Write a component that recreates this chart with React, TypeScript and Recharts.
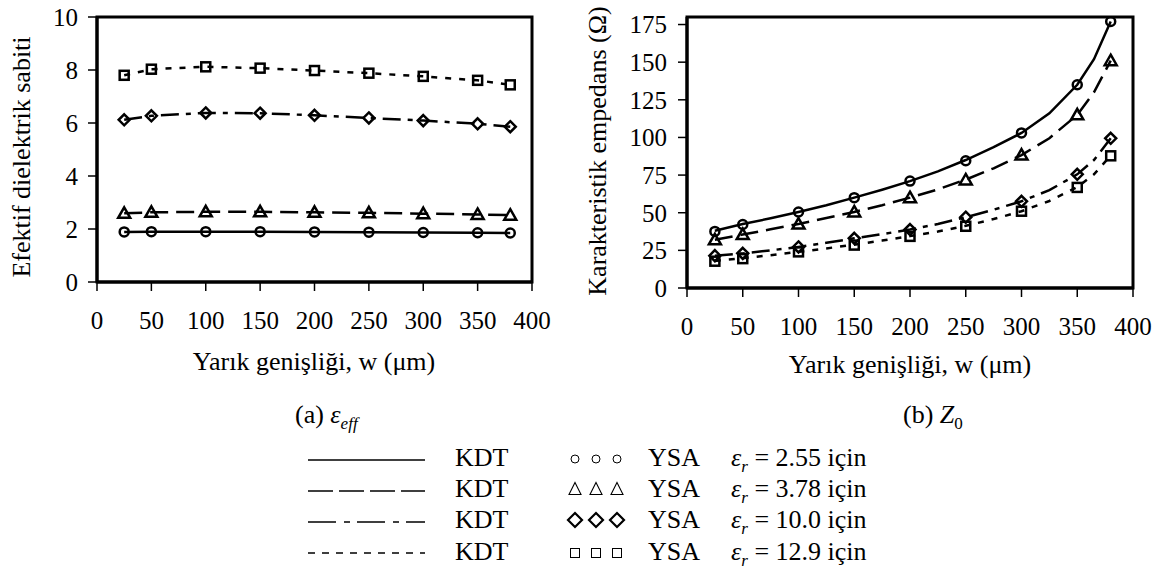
import React from 'react';
import {
  ComposedChart,
  Line,
  Scatter,
  XAxis,
  YAxis,
  ReferenceArea,
} from 'recharts';

// slot width w (µm)
const ysaWidths = [25, 50, 100, 150, 200, 250, 300, 350, 380];
const kdtWidthsZ0 = [25, 50, 75, 100, 125, 150, 175, 200, 225, 250, 275, 300, 325, 350, 365, 380];

// (a) effective dielectric constant
const effKdt255 = [1.89, 1.9, 1.9, 1.9, 1.89, 1.88, 1.87, 1.86, 1.85];
const effKdt378 = [2.59, 2.63, 2.65, 2.65, 2.63, 2.61, 2.58, 2.55, 2.52];
const effKdt100 = [6.12, 6.27, 6.38, 6.37, 6.29, 6.19, 6.09, 5.97, 5.86];
const effKdt129 = [7.8, 8.03, 8.12, 8.07, 7.98, 7.88, 7.76, 7.61, 7.44];

const effYsa255 = [1.89, 1.9, 1.9, 1.9, 1.89, 1.88, 1.87, 1.86, 1.85];
const effYsa378 = [2.59, 2.63, 2.65, 2.65, 2.63, 2.61, 2.58, 2.55, 2.52];
const effYsa100 = [6.12, 6.27, 6.38, 6.37, 6.29, 6.19, 6.09, 5.97, 5.86];
const effYsa129 = [7.8, 8.03, 8.12, 8.07, 7.98, 7.88, 7.76, 7.61, 7.44];

// (b) characteristic impedance
const z0Kdt255 = [38, 42.5, 46.3, 50.5, 55, 60, 65.3, 71, 77.5, 85, 93.5, 103, 116, 135, 152, 177];
const z0Kdt378 = [32, 35.5, 39, 42.5, 46.5, 50.5, 55, 60, 65.5, 72, 79.5, 88.3, 99.5, 115, 130, 151];
const z0Kdt100 = [21.5, 23, 25, 27.3, 30, 33, 35.8, 38.8, 42.5, 47, 52, 57.6, 65, 75.5, 85, 99.4];
const z0Kdt129 = [18, 19.8, 21.8, 24, 26.3, 28.8, 31.5, 34.5, 37.5, 41.3, 45.8, 51, 57.8, 67, 75.5, 88];

const z0Ysa255 = [37.6, 42.2, 50.5, 60, 71, 84.5, 103, 135, 177];
const z0Ysa378 = [32, 35.5, 42.5, 50.5, 60, 71.8, 88.3, 115, 151];
const z0Ysa100 = [21.5, 23, 27.3, 33, 38.8, 47, 57.6, 75.5, 99.4];
const z0Ysa129 = [17.8, 19.5, 24, 28.5, 34.3, 41, 51, 66.8, 87.8];

const xTicks = [0, 50, 100, 150, 200, 250, 300, 350, 400];
const effTicks = [0, 2, 4, 6, 8, 10];
const z0Ticks = [0, 25, 50, 75, 100, 125, 150, 175];

const FONT = 'Liberation Serif, DejaVu Serif, serif';

const pts = (xs: number[], ys: number[]) => xs.map((x, i) => ({ x, y: ys[i] }));

const circleShape = (p: any) => (
  <circle cx={p.cx} cy={p.cy} r={4.5} fill="none" stroke="#000" strokeWidth={2.5} />
);
const triangleShape = (p: any) => (
  <polygon
    points={`${p.cx},${p.cy - 6} ${p.cx + 6},${p.cy + 4.5} ${p.cx - 6},${p.cy + 4.5}`}
    fill="none"
    stroke="#000"
    strokeWidth={2.5}
    strokeLinejoin="miter"
  />
);
const diamondShape = (p: any) => (
  <polygon
    points={`${p.cx},${p.cy - 5.5} ${p.cx + 5.5},${p.cy} ${p.cx},${p.cy + 5.5} ${p.cx - 5.5},${p.cy}`}
    fill="none"
    stroke="#000"
    strokeWidth={2.5}
  />
);
const squareShape = (p: any) => (
  <rect x={p.cx - 4.5} y={p.cy - 4.5} width={9} height={9} fill="none" stroke="#000" strokeWidth={2.5} />
);

const DASHES = ['0', '18 8', '18 7 5 7', '6 8'];

const tickStyle = { fill: '#000', fontSize: 25, fontFamily: FONT };

interface PanelProps {
  kdt: { x: number; y: number }[][];
  ysa: { x: number; y: number }[][];
  yDomain: [number, number];
  yTicks: number[];
  width: number;
  height: number;
  margin: { top: number; right: number; left: number; bottom: number };
  yAxisWidth: number;
  xAxisHeight: number;
  yTickMargin: number;
}

function Panel({ kdt, ysa, yDomain, yTicks, width, height, margin, yAxisWidth, xAxisHeight, yTickMargin }: PanelProps) {
  const shapes = [circleShape, triangleShape, diamondShape, squareShape];
  return (
    <ComposedChart width={width} height={height} margin={margin} style={{ fontFamily: FONT }}>
      <XAxis
        type="number"
        dataKey="x"
        domain={[0, 400]}
        ticks={xTicks}
        interval={0}
        height={xAxisHeight}
        tickSize={9}
        tickMargin={20}
        axisLine={{ stroke: '#000', strokeWidth: 3 }}
        tickLine={{ stroke: '#000', strokeWidth: 1.5 }}
        tick={tickStyle}
        allowDataOverflow
      />
      <YAxis
        type="number"
        dataKey="y"
        domain={yDomain}
        ticks={yTicks}
        interval={0}
        width={yAxisWidth}
        tickSize={9}
        tickMargin={yTickMargin}
        axisLine={{ stroke: '#000', strokeWidth: 3 }}
        tickLine={{ stroke: '#000', strokeWidth: 1.5 }}
        tick={tickStyle}
        allowDataOverflow
      />
      <ReferenceArea
        x1={0}
        x2={400}
        y1={yDomain[0]}
        y2={yDomain[1]}
        fill="none"
        fillOpacity={0}
        stroke="#000"
        strokeWidth={3}
        ifOverflow="visible"
      />
      {kdt.map((d, i) => (
        <Line
          key={`kdt${i}`}
          data={d}
          dataKey="y"
          type="linear"
          stroke="#000"
          strokeWidth={2.5}
          strokeDasharray={DASHES[i]}
          dot={false}
          activeDot={false}
          isAnimationActive={false}
        />
      ))}
      {ysa.map((d, i) => (
        <Scatter key={`ysa${i}`} data={d} dataKey="y" shape={shapes[i]} isAnimationActive={false} />
      ))}
    </ComposedChart>
  );
}

const abs = (left: number, top: number, extra: React.CSSProperties = {}): React.CSSProperties => ({
  position: 'absolute',
  left,
  top,
  fontSize: 26,
  lineHeight: '26px',
  whiteSpace: 'nowrap',
  ...extra,
});

const legendRows = [
  { lineY: 460, textTop: 445, marker: 'circle', my: 459, er: '2.55' },
  { lineY: 491, textTop: 476, marker: 'triangle', my: 489, er: '3.78' },
  { lineY: 522, textTop: 507, marker: 'diamond', my: 520, er: '10.0' },
  { lineY: 553, textTop: 539, marker: 'square', my: 553, er: '12.9' },
];
const legendDashes = ['0', '25 6', '28 8 6 7', '7 7'];
const legendMarkerXs = [575, 596, 617];

function LegendMarker({ kind, cx, cy }: { kind: string; cx: number; cy: number }) {
  if (kind === 'circle') return <circle cx={cx} cy={cy} r={4} fill="none" stroke="#000" strokeWidth={1} />;
  if (kind === 'triangle')
    return (
      <polygon
        points={`${cx},${cy - 6.5} ${cx + 6},${cy + 5.5} ${cx - 6},${cy + 5.5}`}
        fill="none"
        stroke="#000"
        strokeWidth={1.1}
      />
    );
  if (kind === 'diamond')
    return (
      <polygon
        points={`${cx},${cy - 7} ${cx + 7},${cy} ${cx},${cy + 7} ${cx - 7},${cy}`}
        fill="none"
        stroke="#000"
        strokeWidth={2.2}
      />
    );
  return <rect x={cx - 4.5} y={cy - 4.5} width={9} height={9} fill="none" stroke="#000" strokeWidth={1} />;
}

export default function App() {
  const effKdt = [effKdt255, effKdt378, effKdt100, effKdt129].map((ys) => pts(ysaWidths, ys));
  const effYsa = [effYsa255, effYsa378, effYsa100, effYsa129].map((ys) => pts(ysaWidths, ys));
  const z0Kdt = [z0Kdt255, z0Kdt378, z0Kdt100, z0Kdt129].map((ys) => pts(kdtWidthsZ0, ys));
  const z0Ysa = [z0Ysa255, z0Ysa378, z0Ysa100, z0Ysa129].map((ys) => pts(ysaWidths, ys));

  return (
    <div
      style={{
        position: 'absolute',
        left: 0,
        top: 0,
        width: 1163,
        height: 576,
        background: '#fff',
        color: '#000',
        fontFamily: FONT,
        overflow: 'hidden',
      }}
    >
      <div style={{ position: 'absolute', left: 0, top: 0 }}>
        <Panel
          kdt={effKdt}
          ysa={effYsa}
          yDomain={[0, 10]}
          yTicks={effTicks}
          width={560}
          height={345}
          margin={{ top: 17, right: 28, left: 0, bottom: 0 }}
          yAxisWidth={97}
          xAxisHeight={63}
          yTickMargin={10}
        />
      </div>
      <div style={{ position: 'absolute', left: 560, top: 0 }}>
        <Panel
          kdt={z0Kdt}
          ysa={z0Ysa}
          yDomain={[0, 180]}
          yTicks={z0Ticks}
          width={603}
          height={345}
          margin={{ top: 17, right: 30, left: 0, bottom: 0 }}
          yAxisWidth={127}
          xAxisHeight={57}
          yTickMargin={11}
        />
      </div>

      {/* axis titles */}
      <div style={abs(0, 349, { width: 628, textAlign: 'center' })}>Yarık genişliği, w (μm)</div>
      <div style={abs(610, 352, { width: 600, textAlign: 'center' })}>Yarık genişliği, w (μm)</div>
      <div style={abs(22, 157, { transform: 'translate(-50%, -50%) rotate(-90deg)' })}>Efektif dielektrik sabiti</div>
      <div style={abs(598, 151, { transform: 'translate(-50%, -50%) rotate(-90deg)' })}>Karakteristik empedans (Ω)</div>

      {/* sub captions */}
      <div style={abs(295, 402)}>
        (a) <i>ε</i>
        <i style={{ fontSize: 17, position: 'relative', top: 6 }}>eff</i>
      </div>
      <div style={abs(903, 402)}>
        (b) <i>Z</i>
        <span style={{ fontSize: 17, position: 'relative', top: 6 }}>0</span>
      </div>

      {/* legend */}
      <svg style={{ position: 'absolute', left: 0, top: 0 }} width={1163} height={576}>
        {legendRows.map((r, i) => (
          <g key={i}>
            <line x1={308} x2={425} y1={r.lineY} y2={r.lineY} stroke="#000" strokeWidth={1.5} strokeDasharray={legendDashes[i]} />
            {legendMarkerXs.map((mx) => (
              <LegendMarker key={mx} kind={r.marker} cx={mx} cy={r.my} />
            ))}
          </g>
        ))}
      </svg>
      {legendRows.map((r, i) => (
        <React.Fragment key={i}>
          <div style={abs(455, r.textTop)}>KDT</div>
          <div style={abs(648, r.textTop)}>YSA</div>
          <div style={abs(731, r.textTop)}>
            <i>ε</i>
            <i style={{ fontSize: 17, position: 'relative', top: 6 }}>r</i> = {r.er} için
          </div>
        </React.Fragment>
      ))}
    </div>
  );
}
